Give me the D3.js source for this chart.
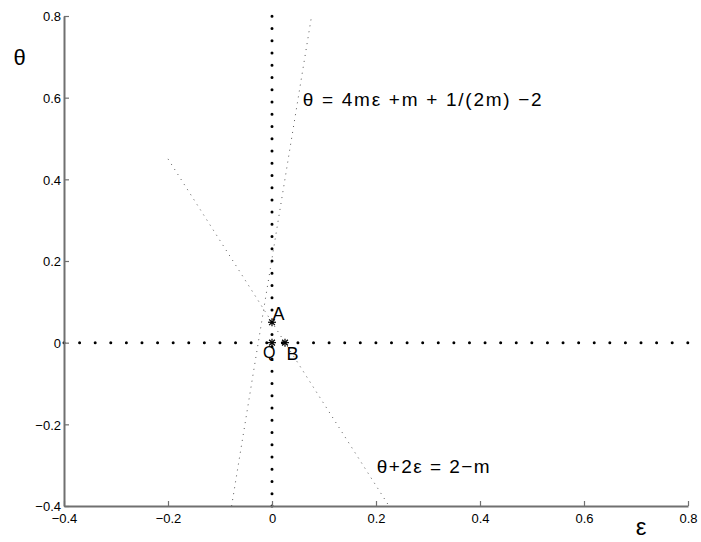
<!DOCTYPE html>
<html><head><meta charset="utf-8">
<script src="https://cdn.jsdelivr.net/npm/d3@7"></script>
<style>
body{margin:0;background:#fff;}
text{font-family:"Liberation Sans",Arial,Helvetica,sans-serif;}
</style></head>
<body>
<svg id="chart" width="701" height="542"></svg>
<script>
// ---- data ----
const xDomain = [-0.4, 0.8];
const yDomain = [-0.4, 0.8];
const xTicks = [-0.4, -0.2, 0, 0.2, 0.4, 0.6, 0.8];
const yTicks = [-0.4, -0.2, 0, 0.2, 0.4, 0.6, 0.8];
const m = 1.95;
// thick dotted reference lines (eps, theta)
const hLine = [[-0.4, 0], [0.8, 0]];
const vLine = [[0, -0.4], [0, 0.8]];
// theta = 4 m eps + m + 1/(2m) - 2
const steepLine = [[-0.0777, -0.4], [0.0761, 0.8]];
// theta + 2 eps = 2 - m
const slantLine = [[-0.2, 0.45], [0.225, -0.4]];
// special points
const points = [
  {name: "Q", eps: 0, theta: 0},
  {name: "A", eps: 0, theta: 0.05},
  {name: "B", eps: 0.025, theta: 0}
];
const labels = [
  {text: "A", eps: 0.001, theta: 0.055, size: 18, len: null},
  {text: "Q", eps: -0.0175, theta: -0.037, size: 16, len: null},
  {text: "B", eps: 0.028, theta: -0.043, size: 18, len: null},
  {text: "θ = 4mε +m + 1/(2m) −2", eps: 0.059, theta: 0.579, size: 19, len: 239},
  {text: "θ+2ε = 2−m", eps: 0.2013, theta: -0.319, size: 19, len: 113}
];
const fmt = v => (v < 0 ? "−" : "") + Math.abs(v).toString();

// ---- layout ----
const svg = d3.select("#chart");
const L = 64, R = 688, T = 16, B = 506;
const x = d3.scaleLinear().domain(xDomain).range([L, R]);
const y = d3.scaleLinear().domain(yDomain).range([B, T]);
const line = d3.line().x(d => x(d[0])).y(d => y(d[1]));

// thick dotted lines
const stepX = x(0.03) - x(0) - 0.005;
const stepY = y(0) - y(0.03) - 0.005;
svg.append("path").attr("d", line(hLine)).attr("fill", "none")
  .attr("stroke", "#000").attr("stroke-width", 3).attr("stroke-linecap", "round")
  .attr("stroke-dasharray", `0 ${stepX}`);
svg.append("path").attr("d", line(vLine)).attr("fill", "none")
  .attr("stroke", "#000").attr("stroke-width", 3).attr("stroke-linecap", "round")
  .attr("stroke-dasharray", `0 ${stepY}`);

// thin dotted lines
[steepLine, slantLine].forEach(l => {
  svg.append("path").attr("d", line(l)).attr("fill", "none")
    .attr("stroke", "#444").attr("stroke-width", 0.9)
    .attr("stroke-dasharray", "1 5");
});

// star markers
const star = 4;
points.forEach(p => {
  const g = svg.append("g").attr("transform", `translate(${x(p.eps)},${y(p.theta)})`)
    .attr("stroke", "#000").attr("stroke-width", 1.2);
  g.append("line").attr("x1", -star).attr("x2", star).attr("y1", 0).attr("y2", 0);
  g.append("line").attr("x1", 0).attr("x2", 0).attr("y1", -star).attr("y2", star);
  const d = star * 0.72;
  g.append("line").attr("x1", -d).attr("x2", d).attr("y1", -d).attr("y2", d);
  g.append("line").attr("x1", -d).attr("x2", d).attr("y1", d).attr("y2", -d);
});

// labels
labels.forEach(l => {
  const t = svg.append("text").attr("x", x(l.eps)).attr("y", y(l.theta))
    .attr("font-size", l.size).attr("fill", "#000").text(l.text);
  if (l.len) t.attr("textLength", l.len).attr("lengthAdjust", "spacing");
});

// axes
const axisColor = "#707070";
const xAxis = svg.append("g").attr("transform", `translate(0,${B})`)
  .call(d3.axisBottom(x).tickValues(xTicks).tickSize(-5).tickPadding(10).tickFormat(fmt).tickSizeOuter(0));
const yAxis = svg.append("g").attr("transform", `translate(${L},0)`)
  .call(d3.axisLeft(y).tickValues(yTicks).tickSize(-5).tickPadding(4).tickFormat(fmt).tickSizeOuter(0));
[xAxis, yAxis].forEach(a => {
  a.select(".domain").attr("stroke", axisColor).attr("stroke-width", 2);
  a.selectAll(".tick line").attr("stroke", axisColor).attr("stroke-width", 1.2);
  a.selectAll(".tick text").attr("fill", "#000").attr("font-size", 13)
    .attr("font-family", "'Liberation Sans',Arial,Helvetica,sans-serif");
});
xAxis.selectAll(".tick text").attr("dy", "0.71em").attr("y", 8);
yAxis.selectAll(".tick text").attr("x", -3).attr("dy", "0.36em");

// axis titles
svg.append("text").attr("x", 19.5).attr("y", 65).attr("text-anchor", "middle")
  .attr("font-family", "'Liberation Serif','Times New Roman',serif").attr("font-size", 22).text("θ");
svg.append("text").attr("x", 641).attr("y", 535).attr("text-anchor", "middle")
  .attr("font-family", "'Liberation Serif','Times New Roman',serif").attr("font-size", 24).text("ε");
</script>
</body></html>
